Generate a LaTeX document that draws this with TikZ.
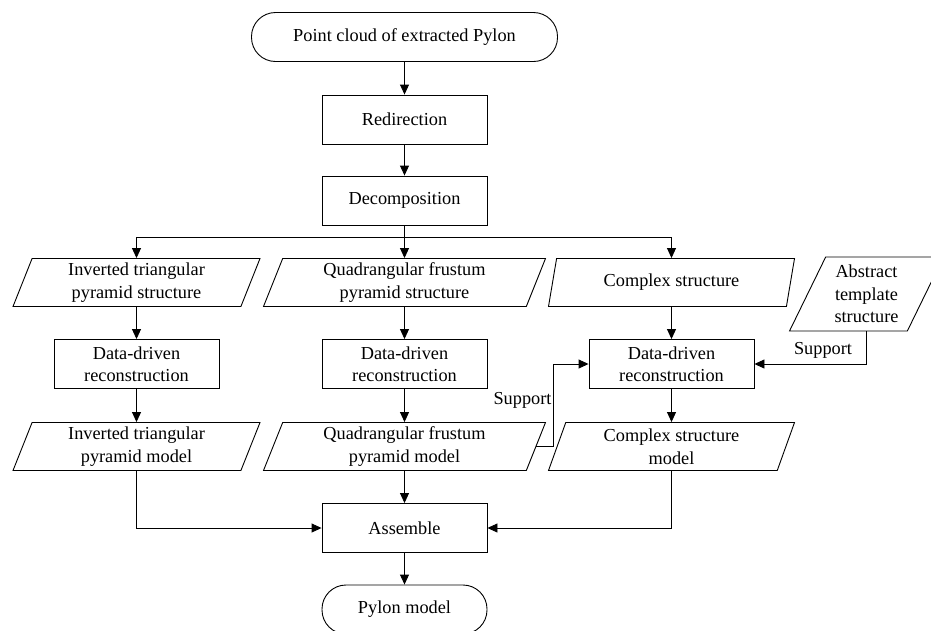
\documentclass[tikz,border=0pt]{standalone}
\usepackage{fontspec}
\setmainfont{Liberation Serif}
\usetikzlibrary{arrows.meta, shapes.geometric}

\begin{document}
\begin{tikzpicture}[x=1pt, y=-1pt, line width=0.9pt, >={Triangle[length=10pt, width=9pt]},
    every node/.style={font=\fontsize{18.3}{22.5}\selectfont, align=center},
    term/.style={draw, rounded corners=24pt, minimum height=49pt, inner sep=0pt},
    proc/.style={draw, rectangle, minimum width=165pt, minimum height=49pt, inner sep=0pt},
    io/.style={draw, trapezium, trapezium left angle=64, trapezium right angle=116,
        trapezium stretches body, minimum height=48pt, inner sep=0pt}]
    \useasboundingbox (0,0) rectangle (931,630);
    % main line
    \node[term, minimum width=306pt] (cloud) at (404.5,37) {Point cloud of extracted Pylon};
    \node[proc] (redir) at (404.5,119.5) {Redirection};
    \node[proc] (decomp) at (404.5,200.5) {Decomposition};
    \coordinate (split) at (404.5,237.5);
    % structures
    \node[io, minimum width=247pt] (invS) at (136.5,282.5) {Inverted triangular\\pyramid structure};
    \node[io, minimum width=282pt] (quadS) at (404.5,282.5) {Quadrangular frustum\\pyramid structure};
    \node[io, minimum width=246pt] (compS) at (671.5,282.5) {Complex structure};
    \node[io, minimum width=154pt, minimum height=74pt, trapezium left angle=58,
        trapezium right angle=122] (tmpl) at (866.5,294) {Abstract\\template\\structure};
    % reconstruction
    \node[proc] (recA) at (136.5,364) {Data-driven\\reconstruction};
    \node[proc] (recB) at (404.5,364) {Data-driven\\reconstruction};
    \node[proc] (recC) at (671.5,364) {Data-driven\\reconstruction};
    % models
    \node[io, minimum width=247pt] (invM) at (136.5,446.5) {Inverted triangular\\pyramid model};
    \node[io, minimum width=282pt] (quadM) at (404.5,446.5) {Quadrangular frustum\\pyramid model};
    \node[io, minimum width=246pt] (compM) at (671.5,446.5) {Complex structure\\model};
    \node[proc] (asm) at (404.5,528) {Assemble};
    \node[term, minimum width=165pt] (pylon) at (404.5,609.5) {Pylon model};
    % support labels
    \node (supA) at (522.5,400) {Support};
    \node (supB) at (823,350) {Support};

    \draw[->] (cloud) -- (redir);
    \draw[->] (redir) -- (decomp);
    \draw (decomp) -- (split);
    \draw[->] (split) -- (quadS);
    \draw[->] (split) -| (invS);
    \draw[->] (split) -| (compS);
    \draw[->] (invS) -- (recA);
    \draw[->] (quadS) -- (recB);
    \draw[->] (compS) -- (recC);
    \draw[->] (recA) -- (invM);
    \draw[->] (recB) -- (quadM);
    \draw[->] (recC) -- (compM);
    \draw[->] (quadM.east) -- ++(17,0) |- (recC.west);
    \draw[->] (tmpl.south) |- (recC.east);
    \draw[->] (invM.south) |- (asm.west);
    \draw[->] (quadM) -- (asm);
    \draw[->] (compM.south) |- (asm.east);
    \draw[->] (asm) -- (pylon);

\end{tikzpicture}
\end{document}
